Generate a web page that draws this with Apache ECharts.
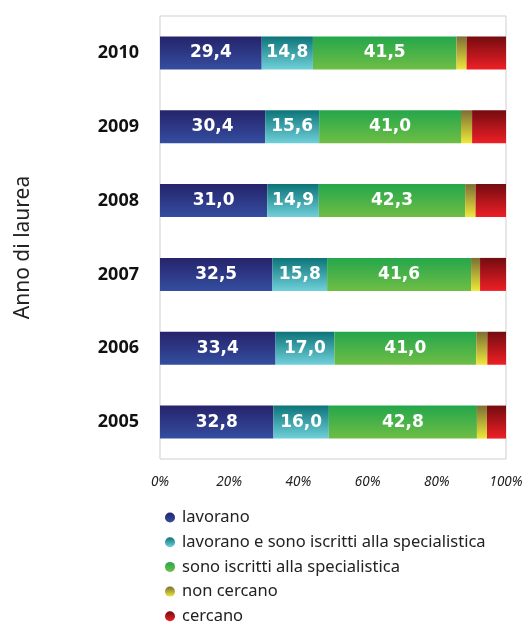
<!DOCTYPE html>
<html>
<head>
<meta charset="utf-8">
<script src="https://cdn.jsdelivr.net/npm/echarts@6/dist/echarts.min.js"></script>
<style>
    html, body { margin: 0; padding: 0; background: #fff; }
    #chart { width: 523px; height: 622px; }
</style>
</head>
<body>
<div id="chart"></div>
<script>
const years = ['2005', '2006', '2007', '2008', '2009', '2010'];
const xTicks = [0, 20, 40, 60, 80, 100];

const lavorano = [32.8, 33.4, 32.5, 31.0, 30.4, 29.4];
const lavoranoIscritti = [16.0, 17.0, 15.8, 14.9, 15.6, 14.8];
const iscritti = [42.8, 41.0, 41.6, 42.3, 41.0, 41.5];
const nonCercano = [2.9, 3.2, 2.6, 3.0, 3.2, 2.9];
const cercano = [5.5, 5.4, 7.5, 8.8, 9.8, 11.4];

const grad = (top, bottom) => new echarts.graphic.LinearGradient(0, 0, 0, 1, [
    {offset: 0, color: top},
    {offset: 1, color: bottom}
]);

const labelStyle = {
    show: true,
    position: 'inside',
    color: '#fff',
    fontFamily: 'DejaVu Sans',
    fontWeight: 'bold',
    fontSize: 17,
    formatter: p => p.value.toFixed(1).replace('.', ',')
};

const makeSeries = (name, data, top, bottom, withLabel) => ({
    name: name,
    type: 'bar',
    stack: 'tot',
    data: data,
    barWidth: 33,
    itemStyle: {color: grad(top, bottom)},
    label: withLabel ? labelStyle : {show: false},
    emphasis: {disabled: true}
});

const chart = echarts.init(document.getElementById('chart'));
chart.setOption({
    animation: false,
    grid: {
        left: 160, right: 17, top: 16, bottom: 163,
        outerBoundsMode: 'none',
        containLabel: false,
        show: true, borderColor: '#cfcfcf', borderWidth: 1, backgroundColor: 'transparent'
    },
    legend: {
        orient: 'vertical',
        left: 160,
        top: 504,
        height: 130,
        icon: 'circle',
        itemWidth: 10,
        itemHeight: 10,
        itemGap: 7.7,
        textStyle: {fontFamily: 'Noto Sans', fontSize: 16.5, color: '#222', lineHeight: 17, padding: [0, 0, 0, 2]}
    },
    xAxis: {
        type: 'value',
        min: 0,
        max: 100,
        interval: 20,
        axisLine: {show: false},
        axisTick: {show: false},
        splitLine: {show: false},
        axisLabel: {
            formatter: v => xTicks.includes(v) ? v + '%' : '',
            fontFamily: 'Noto Sans',
            fontStyle: 'italic',
            fontSize: 13.5,
            color: '#222',
            margin: 16
        }
    },
    yAxis: {
        type: 'category',
        data: years,
        name: 'Anno di laurea',
        nameLocation: 'middle',
        nameRotate: 90,
        nameGap: 126,
        nameTextStyle: {fontFamily: 'Noto Sans', fontSize: 21, color: '#222', padding: [0, 20, 0, 0]},
        axisLine: {show: false},
        axisTick: {show: false},
        axisLabel: {
            fontFamily: 'Noto Sans',
            fontWeight: 'bold',
            fontSize: 18,
            color: '#111',
            margin: 21
        }
    },
    series: [
        makeSeries('lavorano', lavorano, '#25236b', '#354ea0', true),
        makeSeries('lavorano e sono iscritti alla specialistica', lavoranoIscritti, '#0c7478', '#70d0da', true),
        makeSeries('sono iscritti alla specialistica', iscritti, '#24a64b', '#6fbe45', true),
        makeSeries('non cercano', nonCercano, '#7d6e34', '#eee83a', false),
        makeSeries('cercano', cercano, '#730c10', '#ee1f26', false)
    ]
});
</script>
</body>
</html>
